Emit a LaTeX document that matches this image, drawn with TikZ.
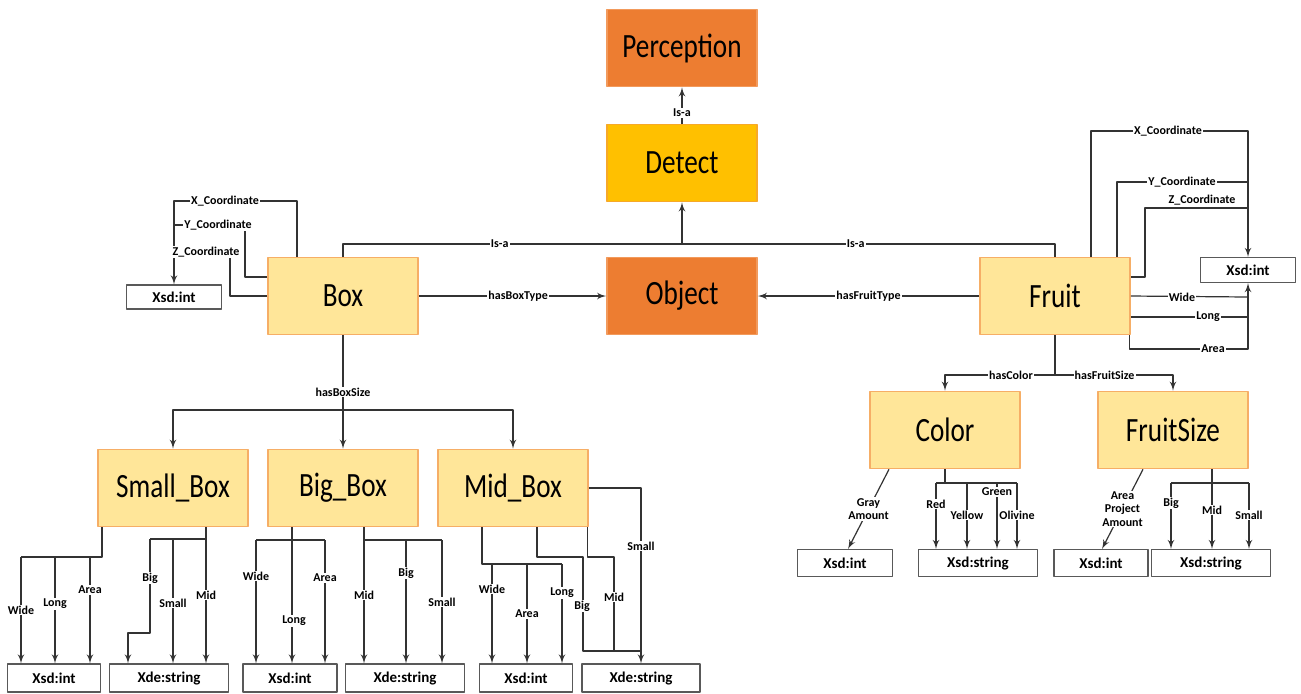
\documentclass[tikz,border=0pt]{standalone}
\usepackage{fontspec}
\setmainfont{Carlito}
\newfontfamily\classfont[FakeStretch=0.8]{Carlito}
\usepackage{tikz}
\usetikzlibrary{arrows,positioning,calc}

\definecolor{orangefill}{HTML}{ED7D31}
\definecolor{orangeline}{HTML}{F29A5C}
\definecolor{goldfill}{HTML}{FFC000}
\definecolor{goldline}{HTML}{F7A928}
\definecolor{lightfill}{HTML}{FFE699}
\definecolor{lightline}{HTML}{F6AE66}
\definecolor{edgecol}{HTML}{333333}
\definecolor{typeline}{HTML}{595959}

\begin{document}
\begin{tikzpicture}[>=latex',line join=bevel,x=0.5pt,y=-0.5pt,
  classbox/.style={draw=lightline,fill=lightfill,line width=0.8pt,inner sep=0pt,
    minimum width=75pt,minimum height=38.5pt,font=\classfont\fontsize{17}{20}\selectfont},
  topbox/.style={classbox,draw=orangeline,fill=orangefill},
  detectbox/.style={classbox,draw=goldline,fill=goldfill},
  typebox/.style={draw=typeline,fill=white,line width=0.55pt,inner sep=0pt,
    minimum width=47.5pt,minimum height=14pt,font=\bfseries\fontsize{7.5}{9}\selectfont},
  strbox/.style={typebox,minimum width=59.5pt},
  lbl/.style={fill=white,inner sep=0.6pt,align=center,
    font=\bfseries\fontsize{6}{6.6}\selectfont},
  every path/.style={draw=edgecol,line width=0.6pt}]
  \path[use as bounding box,draw=none] (0,0) rectangle (1301,693);
%%
  % Node: classes
  \node[topbox] (perception) at (682,48) {Perception};
  \node[detectbox] (detect) at (682,163) {Detect};
  \node[topbox] (object) at (682,296) {Object};
  \node[classbox] (box) at (343,296) {Box};
  \node[classbox] (fruit) at (1055,296) {Fruit};
  \node[classbox] (smallbox) at (173,488) {Small\_Box};
  \node[classbox] (bigbox) at (343,488) {Big\_Box};
  \node[classbox] (midbox) at (513,488) {Mid\_Box};
  \node[classbox] (color) at (945,430) {Color};
  \node[classbox] (fruitsize) at (1173,430) {FruitSize};
  % Node: datatypes
  \node[typebox,minimum height=12pt] (boxint) at (174,297) {Xsd:int};
  \node[typebox,minimum height=12.5pt] (fruitint) at (1248,270) {Xsd:int};
  \node[typebox,minimum width=46.5pt] (sbint) at (54,678) {Xsd:int};
  \node[strbox] (sbstr) at (169,678) {Xde:string};
  \node[typebox,minimum width=47pt] (bbint) at (290,678) {Xsd:int};
  \node[strbox] (bbstr) at (405,678) {Xde:string};
  \node[typebox,minimum width=46.5pt] (mbint) at (526,678) {Xsd:int};
  \node[strbox,minimum width=59pt] (mbstr) at (641,678) {Xde:string};
  \node[typebox,minimum height=13.5pt] (colint) at (845,563) {Xsd:int};
  \node[strbox,minimum height=13.5pt] (colstr) at (978,563) {Xsd:string};
  \node[typebox,minimum width=47pt,minimum height=13.5pt] (fsint) at (1101,563) {Xsd:int};
  \node[strbox,minimum height=13.5pt] (fsstr) at (1211,563) {Xsd:string};
%%
  % Edge: detect -> perception
  \draw [->] (detect.north) -- (perception.south) node[lbl,pos=0.3] {Is-a};
  % Edge: box -> detect, fruit -> detect
  \coordinate (isa) at (682,244);
  \draw (box.north) |- (fruit.north |- isa) node[lbl,pos=0.61] {Is-a} node[lbl,pos=0.86] {Is-a} -- (fruit.north);
  \draw [->] (isa) -- (detect.south);
  % Edge: box -> object, fruit -> object
  \draw [->] (box.east) -- (object.west) node[lbl,pos=0.53] {hasBoxType};
  \draw [->] (fruit.west) -- (object.east) node[lbl,pos=0.5] {hasFruitType};
  % Edge: box -> size classes
  \coordinate (sizebus) at (343,410);
  \draw [->] (box.south) -- (bigbox.north) node[lbl,pos=0.5] {hasBoxSize};
  \draw [->] (sizebus) -| (smallbox.north);
  \draw [->] (sizebus) -| (midbox.north);
  % Edge: box -> boxint
  \coordinate (bxtop) at (174,201);
  \coordinate (bxY) at (174,225);
  \coordinate (bxZ) at (174,252);
  \draw [->] ($(box.north)+(-46,0)$) |- (bxtop) -- (boxint.north);
  \draw ($(box.west)+(0,-19)$) -| ($(bxY)+(71,0)$) -- (bxY);
  \draw (box.west) -| ($(bxZ)+(56,0)$) -- (bxZ);
  \node[lbl] at (225,201) {X\_Coordinate};
  \node[lbl] at (218,225) {Y\_Coordinate};
  \node[lbl] at (206,252) {Z\_Coordinate};
  % Edge: fruit -> fruitint
  \coordinate (frtop) at (1248,131);
  \coordinate (frY) at (1248,182);
  \coordinate (frZ) at (1248,208);
  \coordinate (frW) at (1248,297);
  \coordinate (frL) at (1248,317);
  \coordinate (frA) at (1248,349);
  \draw [->] ($(fruit.north)+(36,0)$) |- (frtop) -- (fruitint.north);
  \draw ($(fruit.north)+(62,0)$) |- (frY);
  \draw ($(fruit.east)+(0,-19)$) -| ($(frZ)+(-103,0)$) -- (frZ);
  \draw (fruit.east) -- (frW);
  \draw ($(fruit.east)+(0,21)$) -- (frL);
  \draw [->] ($(fruit.south east)+(-1,0)$) |- (frA) -- (fruitint.south);
  \node[lbl] at (1168,131) {X\_Coordinate};
  \node[lbl] at (1182,182) {Y\_Coordinate};
  \node[lbl,anchor=south] at (1202,207) {Z\_Coordinate};
  \node[lbl] at (1182,297) {Wide};
  \node[lbl] at (1208,317) {Long};
  \node[lbl] at (1213,349) {Area};
  % Edge: fruit -> color, fruit -> fruitsize
  \coordinate (frbus) at (1055,375);
  \draw (fruit.south) -- (frbus);
  \draw [->] (frbus) -| (color.north) node[lbl,pos=0.2] {hasColor};
  \draw [->] (frbus) -| (fruitsize.north) node[lbl,pos=0.21] {hasFruitSize};
  % Edge: color -> datatypes
  \draw [->] ($(color.south)+(-56,0)$) -- ($(colint.north)+(3,0)$) node[lbl,midway] {Gray\\Amount};
  \coordinate (colL) at (936,483);
  \coordinate (colR) at (1017,483);
  \draw (color.south) -- (color.south |- colL);
  \draw (colL) -- (colR);
  \foreach \x/\t/\ly in {936/Red/504, 967/Yellow/515, 997/Green/492, 1017/Olivine/515}
    \draw [->] (\x,483) -- (\x,483 |- colstr.north) node[lbl] at (\x,\ly) {\t};
  % Edge: fruitsize -> datatypes
  \draw [->] ($(fruitsize.south)+(-30,0)$) -- ($(fsint.north)+(1,0)$) node[lbl,midway] {Area\\Project\\Amount};
  \coordinate (fsL) at (1171,483);
  \coordinate (fsR) at (1249,483);
  \draw (fsL) -- (fsR);
  \draw [->] ($(fruitsize.south)+(39,0)$) -- ($(fsstr.north)+(1,0)$) node[lbl] at (1212,510) {Mid};
  \foreach \x/\t/\ly in {1171/Big/503, 1249/Small/515}
    \draw [->] (\x,483) -- (\x,483 |- fsstr.north) node[lbl] at (\x,\ly) {\t};
  % Edge: smallbox -> datatypes
  \coordinate (sbL) at (21,557);
  \draw ($(smallbox.south)+(-71,0)$) |- (sbL);
  \foreach \x/\t/\ly in {21/Wide/610, 55/Long/604, 90/Area/590}
    \draw [->] (\x,557) -- (\x,557 |- sbint.north) node[lbl] at (\x,\ly) {\t};
  \coordinate (sbR) at (206,539);
  \draw [->] ($(smallbox.south)+(33,0)$) -- (sbR |- sbstr.north) node[lbl] at (206,595) {Mid};
  \draw (sbR) -- (150,539);
  \draw [->] (173,539) -- (173,539 |- sbstr.north) node[lbl] at (173,603) {Small};
  \draw [->] (150,539) |- (128,633) -- (128,633 |- sbstr.north) node[lbl] at (150,578) {Big};
  % Edge: bigbox -> datatypes
  \draw (256,540) -- (325,540);
  \draw [->] ($(bigbox.south)+(-51,0)$) -- ($(bbint.north)+(2,0)$) node[lbl] at (294,621) {Long};
  \foreach \x/\t/\ly in {256/Wide/576, 325/Area/578}
    \draw [->] (\x,540) -- (\x,540 |- bbint.north) node[lbl] at (\x,\ly) {\t};
  \draw (364,540) -- (442,540);
  \draw [->] ($(bigbox.south)+(21,0)$) -- (364,540 |- bbstr.north) node[lbl] at (364,595) {Mid};
  \foreach \x/\t/\ly in {406/Big/573, 442/Small/602}
    \draw [->] (\x,540) -- (\x,540 |- bbstr.north) node[lbl] at (\x,\ly) {\t};
  % Edge: midbox -> datatypes
  \coordinate (mbL) at (482,564);
  \draw ($(midbox.south)+(-31,0)$) |- (562,564);
  \foreach \x/\t/\ly in {492/Wide/589, 527/Area/614, 562/Long/593}
    \draw [->] (\x,564) -- (\x,564 |- mbint.north) node[lbl] at (\x,\ly) {\t};
  \coordinate (mbjoin) at (641,651);
  \draw ($(midbox.south)+(24,0)$) |- (583,557) |- (614,651);
  \draw ($(midbox.south east)+(-1,0)$) |- (614,557) |- (mbjoin);
  \node[lbl] at (582,606) {Big};
  \node[lbl] at (614,597) {Mid};
  \draw [->] (midbox.east) -| (mbstr.north) node[lbl] at (641,546) {Small};
%
\end{tikzpicture}
\end{document}
